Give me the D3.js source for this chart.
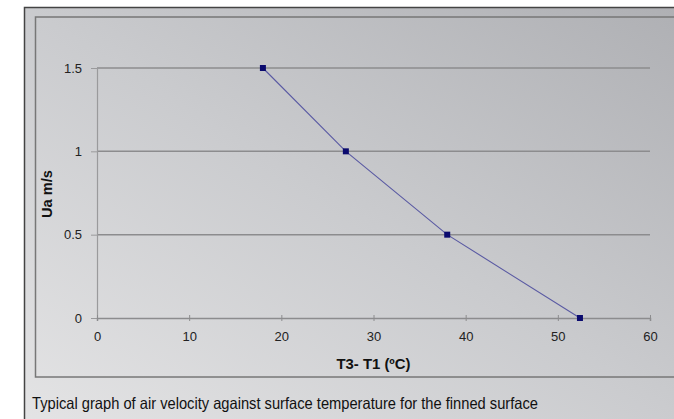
<!DOCTYPE html>
<html><head><meta charset="utf-8">
<script src="https://cdn.jsdelivr.net/npm/d3@7"></script>
<style>html,body{margin:0;padding:0;background:#fff;}svg{display:block;}</style>
</head><body>
<script>
const tempDiff = [18, 27, 38, 52.4];
const airVelocity = [1.5, 1, 0.5, 0];
const xTicks = [0, 10, 20, 30, 40, 50, 60];
const yTicks = [0, 0.5, 1, 1.5];
const xTitle = "T3- T1 (ºC)";
const yTitle = "Ua m/s";
const caption = "Typical graph of air velocity against surface temperature for the finned surface";

const W = 674, H = 419;
const svg = d3.select("body").append("svg").attr("width", W).attr("height", H);
const defs = svg.append("defs");
const g1 = defs.append("linearGradient").attr("id","bg").attr("x1","100%").attr("y1","0%").attr("x2","0%").attr("y2","100%");
g1.append("stop").attr("offset","0%").attr("stop-color","#aeafb3");
g1.append("stop").attr("offset","50%").attr("stop-color","#cacbce");
g1.append("stop").attr("offset","100%").attr("stop-color","#e4e4e5");

// outer frame
svg.append("rect").attr("x",24.5).attr("y",7.5).attr("width",W).attr("height",H).attr("fill","url(#bg)")
  .attr("stroke","#444").attr("stroke-width",1.5);
// inner chart border
svg.append("rect").attr("x",35.5).attr("y",17).attr("width",W).attr("height",360)
  .attr("fill","none").attr("stroke","#777").attr("stroke-width",1.5);

const x = d3.scaleLinear().domain([0,60]).range([97,650]);
const y = d3.scaleLinear().domain([0,1.5]).range([318,68]);

const sans = "Liberation Sans, Arial, sans-serif";

// gridlines
svg.append("g").selectAll("line").data(yTicks.filter(d=>d>0)).join("line")
  .attr("x1",x(0)).attr("x2",x(60)).attr("y1",d=>y(d)).attr("y2",d=>y(d))
  .attr("stroke","#8c8c8e").attr("stroke-width",1.5);

// y axis
const ya = svg.append("g").attr("transform",`translate(${x(0)},0)`)
  .call(d3.axisLeft(y).tickValues(yTicks).tickFormat(d3.format("")).tickSize(6).tickPadding(9));
ya.select(".domain").attr("stroke","#9a9a9c").attr("stroke-width",1.2);
ya.selectAll(".tick line").attr("stroke","#9a9a9c");
ya.selectAll("text").attr("font-family",sans).attr("font-size",13).attr("fill","#222");

// x axis
const xa = svg.append("g").attr("transform",`translate(0,${y(0)})`)
  .call(d3.axisBottom(x).tickValues(xTicks).tickSize(3).tickPadding(11));
xa.select(".domain").attr("stroke","#8c8c8e").attr("stroke-width",1.5);
xa.selectAll(".tick line").attr("stroke","#8c8c8e").attr("y1",-3);
xa.selectAll("text").attr("font-family",sans).attr("font-size",13).attr("fill","#222");

// titles
svg.append("text").attr("x",(x(0)+x(60))/2).attr("y",369).attr("text-anchor","middle")
  .attr("font-family",sans).attr("font-weight","bold").attr("font-size",14).attr("fill","#111")
  .attr("textLength",74).attr("lengthAdjust","spacingAndGlyphs")
  .text(xTitle);
svg.append("text").attr("transform","translate(52,194) rotate(-90)").attr("text-anchor","middle")
  .attr("font-family",sans).attr("font-weight","bold").attr("font-size",14).attr("fill","#111")
  .attr("textLength",48).attr("lengthAdjust","spacingAndGlyphs")
  .text(yTitle);

// line
const pts = tempDiff.map((t,i)=>[t, airVelocity[i]]);
svg.append("path").datum(pts)
  .attr("d", d3.line().x(d=>x(d[0])).y(d=>y(d[1])))
  .attr("fill","none").attr("stroke","#5a5aa3").attr("stroke-width",1.1);
svg.append("g").selectAll("rect").data(pts).join("rect")
  .attr("x",d=>x(d[0])-3).attr("y",d=>y(d[1])-3).attr("width",6).attr("height",6)
  .attr("fill","#0a0a6e");

// caption
svg.append("text").attr("x",32).attr("y",409)
  .attr("font-family","Liberation Sans Narrow, Arial Narrow, sans-serif").attr("font-size",16.5).attr("fill","#111")
  .attr("textLength",506).attr("lengthAdjust","spacingAndGlyphs")
  .text(caption);
</script>
</body></html>
